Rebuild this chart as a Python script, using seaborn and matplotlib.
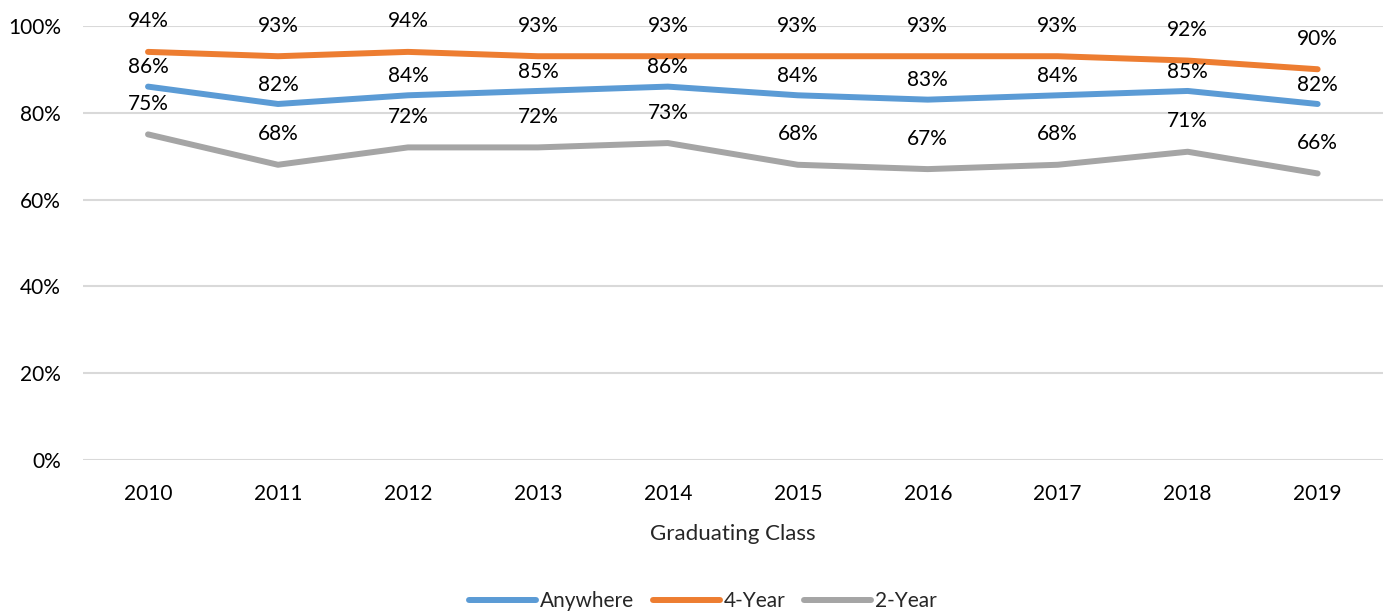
import numpy as np
import pandas as pd
import matplotlib.pyplot as plt
import seaborn as sns

years = ["2010", "2011", "2012", "2013", "2014", "2015", "2016", "2017", "2018", "2019"]
anywhere = [86, 82, 84, 85, 86, 84, 83, 84, 85, 82]
four_year = [94, 93, 94, 93, 93, 93, 93, 93, 92, 90]
two_year = [75, 68, 72, 72, 73, 68, 67, 68, 71, 66]

series_names = ["Anywhere", "4-Year", "2-Year"]
colors = ["#5B9BD5", "#ED7D31", "#A5A5A5"]
label_offsets = [14, 22, 22]  # points above the line

sns.set_theme(style="white")
plt.rcParams["font.family"] = ["Lato", "DejaVu Sans"]

df = pd.DataFrame({
    "Graduating Class": years * 3,
    "Share": [v / 100 for v in anywhere + four_year + two_year],
    "Series": np.repeat(series_names, len(years)),
})

fig = plt.figure(figsize=(13.84, 6.15), dpi=100)
ax = fig.add_axes([0.06, 0.252, 0.939, 0.706])

sns.lineplot(data=df, x="Graduating Class", y="Share", hue="Series",
             palette=colors, linewidth=4.3, sort=False, ax=ax, legend=True,
             solid_capstyle="round")

for (name, vals, off) in zip(series_names, [anywhere, four_year, two_year], label_offsets):
    for i, v in enumerate(vals):
        ax.annotate(f"{v}%", (i, v / 100), xytext=(0, off), textcoords="offset points",
                    ha="center", va="center", fontsize=15, color="#000000",
                    annotation_clip=False)

ax.set_ylim(0, 1.0)
ax.set_xlim(-0.5, len(years) - 0.5)
ax.set_yticks(np.arange(0, 1.01, 0.2))
ax.set_yticklabels([f"{int(t * 100)}%" for t in np.arange(0, 1.01, 0.2)])
ax.yaxis.grid(True, color="#D9D9D9", linewidth=1.5)
ax.xaxis.grid(False)
for s in ax.spines.values():
    s.set_visible(False)
ax.tick_params(axis="both", length=0, labelsize=15, colors="#000000")
ax.tick_params(axis="y", pad=16)
ax.tick_params(axis="x", pad=17)
ax.set_xlabel("Graduating Class", fontsize=16, labelpad=15)
ax.set_ylabel("")

handles, labels = ax.get_legend_handles_labels()
ax.get_legend().remove()
fig.legend(handles, labels, loc="center", bbox_to_anchor=(0.508, 0.022), ncol=3,
           frameon=False, fontsize=15, handlelength=3.2, handletextpad=0.2,
           columnspacing=0.9)

fig.savefig("out.png", dpi=100)
